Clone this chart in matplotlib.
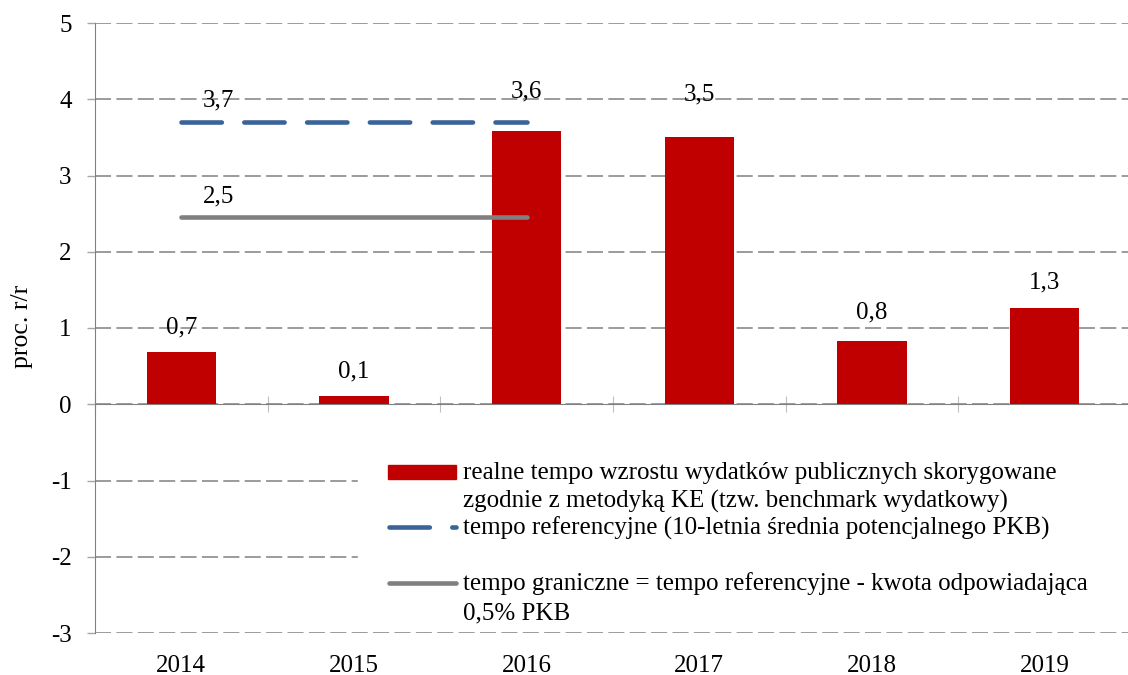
import numpy as np
import matplotlib.pyplot as plt
from matplotlib.lines import Line2D
from matplotlib.patches import Rectangle

plt.rcParams['font.family'] = ['Liberation Serif', 'DejaVu Serif']
plt.rcParams['axes.unicode_minus'] = False

### data ###
years = ['2014', '2015', '2016', '2017', '2018', '2019']
wydatki = [0.68, 0.105, 3.59, 3.50, 0.83, 1.26]        # realne tempo wzrostu wydatkow
ref_years = [0, 2]                                      # 2014 .. 2016
tempo_ref = [3.7, 3.7]
tempo_gran = [2.45, 2.45]

label_gap = [19, 19, 33, 37, 23, 20]   # px above each bar for the value labels

leg_labels = ['realne tempo wzrostu wydatków publicznych skorygowane\nzgodnie z metodyką KE (tzw. benchmark wydatkowy)',
              'tempo referencyjne (10-letnia średnia potencjalnego PKB)',
              'tempo graniczne = tempo referencyjne - kwota odpowiadająca\n0,5% PKB']

RED = '#C00000'
BLUE = '#3A6398'
GRAY = '#808080'
FS = 18

W, H = 1128, 675
def fx(x):
    return x / W
def fy(y):
    return 1 - y / H

fig = plt.figure(figsize=(W / 100, H / 100), dpi=100)
ax = fig.add_axes([fx(95), fy(633), fx(1131) - fx(95), fy(23) - fy(633)])

x = np.arange(len(years))
ax.bar(x, wydatki, width=0.4, color=RED, zorder=2)

dash = (0, (8.8, 4.9))
ax.plot(ref_years, tempo_ref, color=BLUE, lw=3.3, linestyle=dash,
        dash_capstyle='round', solid_capstyle='round', zorder=3)
ax.plot(ref_years, tempo_gran, color=GRAY, lw=3.3,
        solid_capstyle='round', zorder=3)

def fmt(v):
    return f'{v:.1f}'.replace('.', ',')

for xi, v, g in zip(x, wydatki, label_gap):
    ax.annotate(fmt(v), (xi, v), xytext=(0, g * 0.72), textcoords='offset points',
                ha='center', va='baseline', fontsize=FS)
for vals in (tempo_ref, tempo_gran):
    ax.annotate(fmt(vals[0]), (ref_years[0], vals[0]), xytext=(27, 11),
                textcoords='offset points', ha='center', va='baseline', fontsize=FS)

ax.set_xlim(-0.5, len(years) - 0.5)
ax.set_ylim(-3, 5)
ax.set_yticks(range(-3, 6))
ax.set_xticks(x)
ax.set_xticklabels(years)
ax.tick_params(axis='x', length=0, pad=16, labelsize=FS)
ax.tick_params(axis='y', length=5.8, width=1, color='#A6A6A6', pad=11, labelsize=FS)

for s in ['top', 'right', 'bottom']:
    ax.spines[s].set_visible(False)
ax.spines['left'].set_color(GRAY)
ax.set_axisbelow(True)
ax.yaxis.grid(True, color=GRAY, lw=1.1, linestyle=(0, (10.5, 3.5)))

# category axis drawn through zero
zero_axis = ax.secondary_xaxis((0 - (-3)) / 8)
zero_axis.set_xticks(np.arange(len(years) + 1) - 0.5)
zero_axis.tick_params(direction='inout', length=11, color='#BFBFBF', labelbottom=False)
zero_axis.spines['bottom'].set_color(GRAY)

fig.text(fx(22), fy(326), 'proc. r/r', rotation=90, ha='center', va='center', fontsize=18.5)

### legend drawn by hand (Excel layout) ###
fig.add_artist(Rectangle((fx(358), fy(625)), fx(1131) - fx(358), fy(450) - fy(625),
                         transform=fig.transFigure, color='white', zorder=1))
fig.add_artist(Rectangle((fx(388), fy(479)), fx(456) - fx(388), fy(465) - fy(479),
                         transform=fig.transFigure, color=RED, zorder=2))
fig.add_artist(Line2D([fx(388.5), fx(455.5)], [fy(527), fy(527)], transform=fig.transFigure,
                      color=BLUE, lw=3.3, linestyle=dash, dash_capstyle='round', zorder=2))
fig.add_artist(Line2D([fx(388.5), fx(455.5)], [fy(583), fy(583)], transform=fig.transFigure,
                      color=GRAY, lw=3.3, solid_capstyle='round', zorder=2))
for lab, yb in zip(leg_labels, [479, 535, 590]):
    for i, line in enumerate(lab.split('\n')):
        fig.text(fx(463), fy(yb + 29 * i), line, ha='left', va='baseline',
                 fontsize=FS, zorder=3)

fig.savefig('out.png', dpi=100)
